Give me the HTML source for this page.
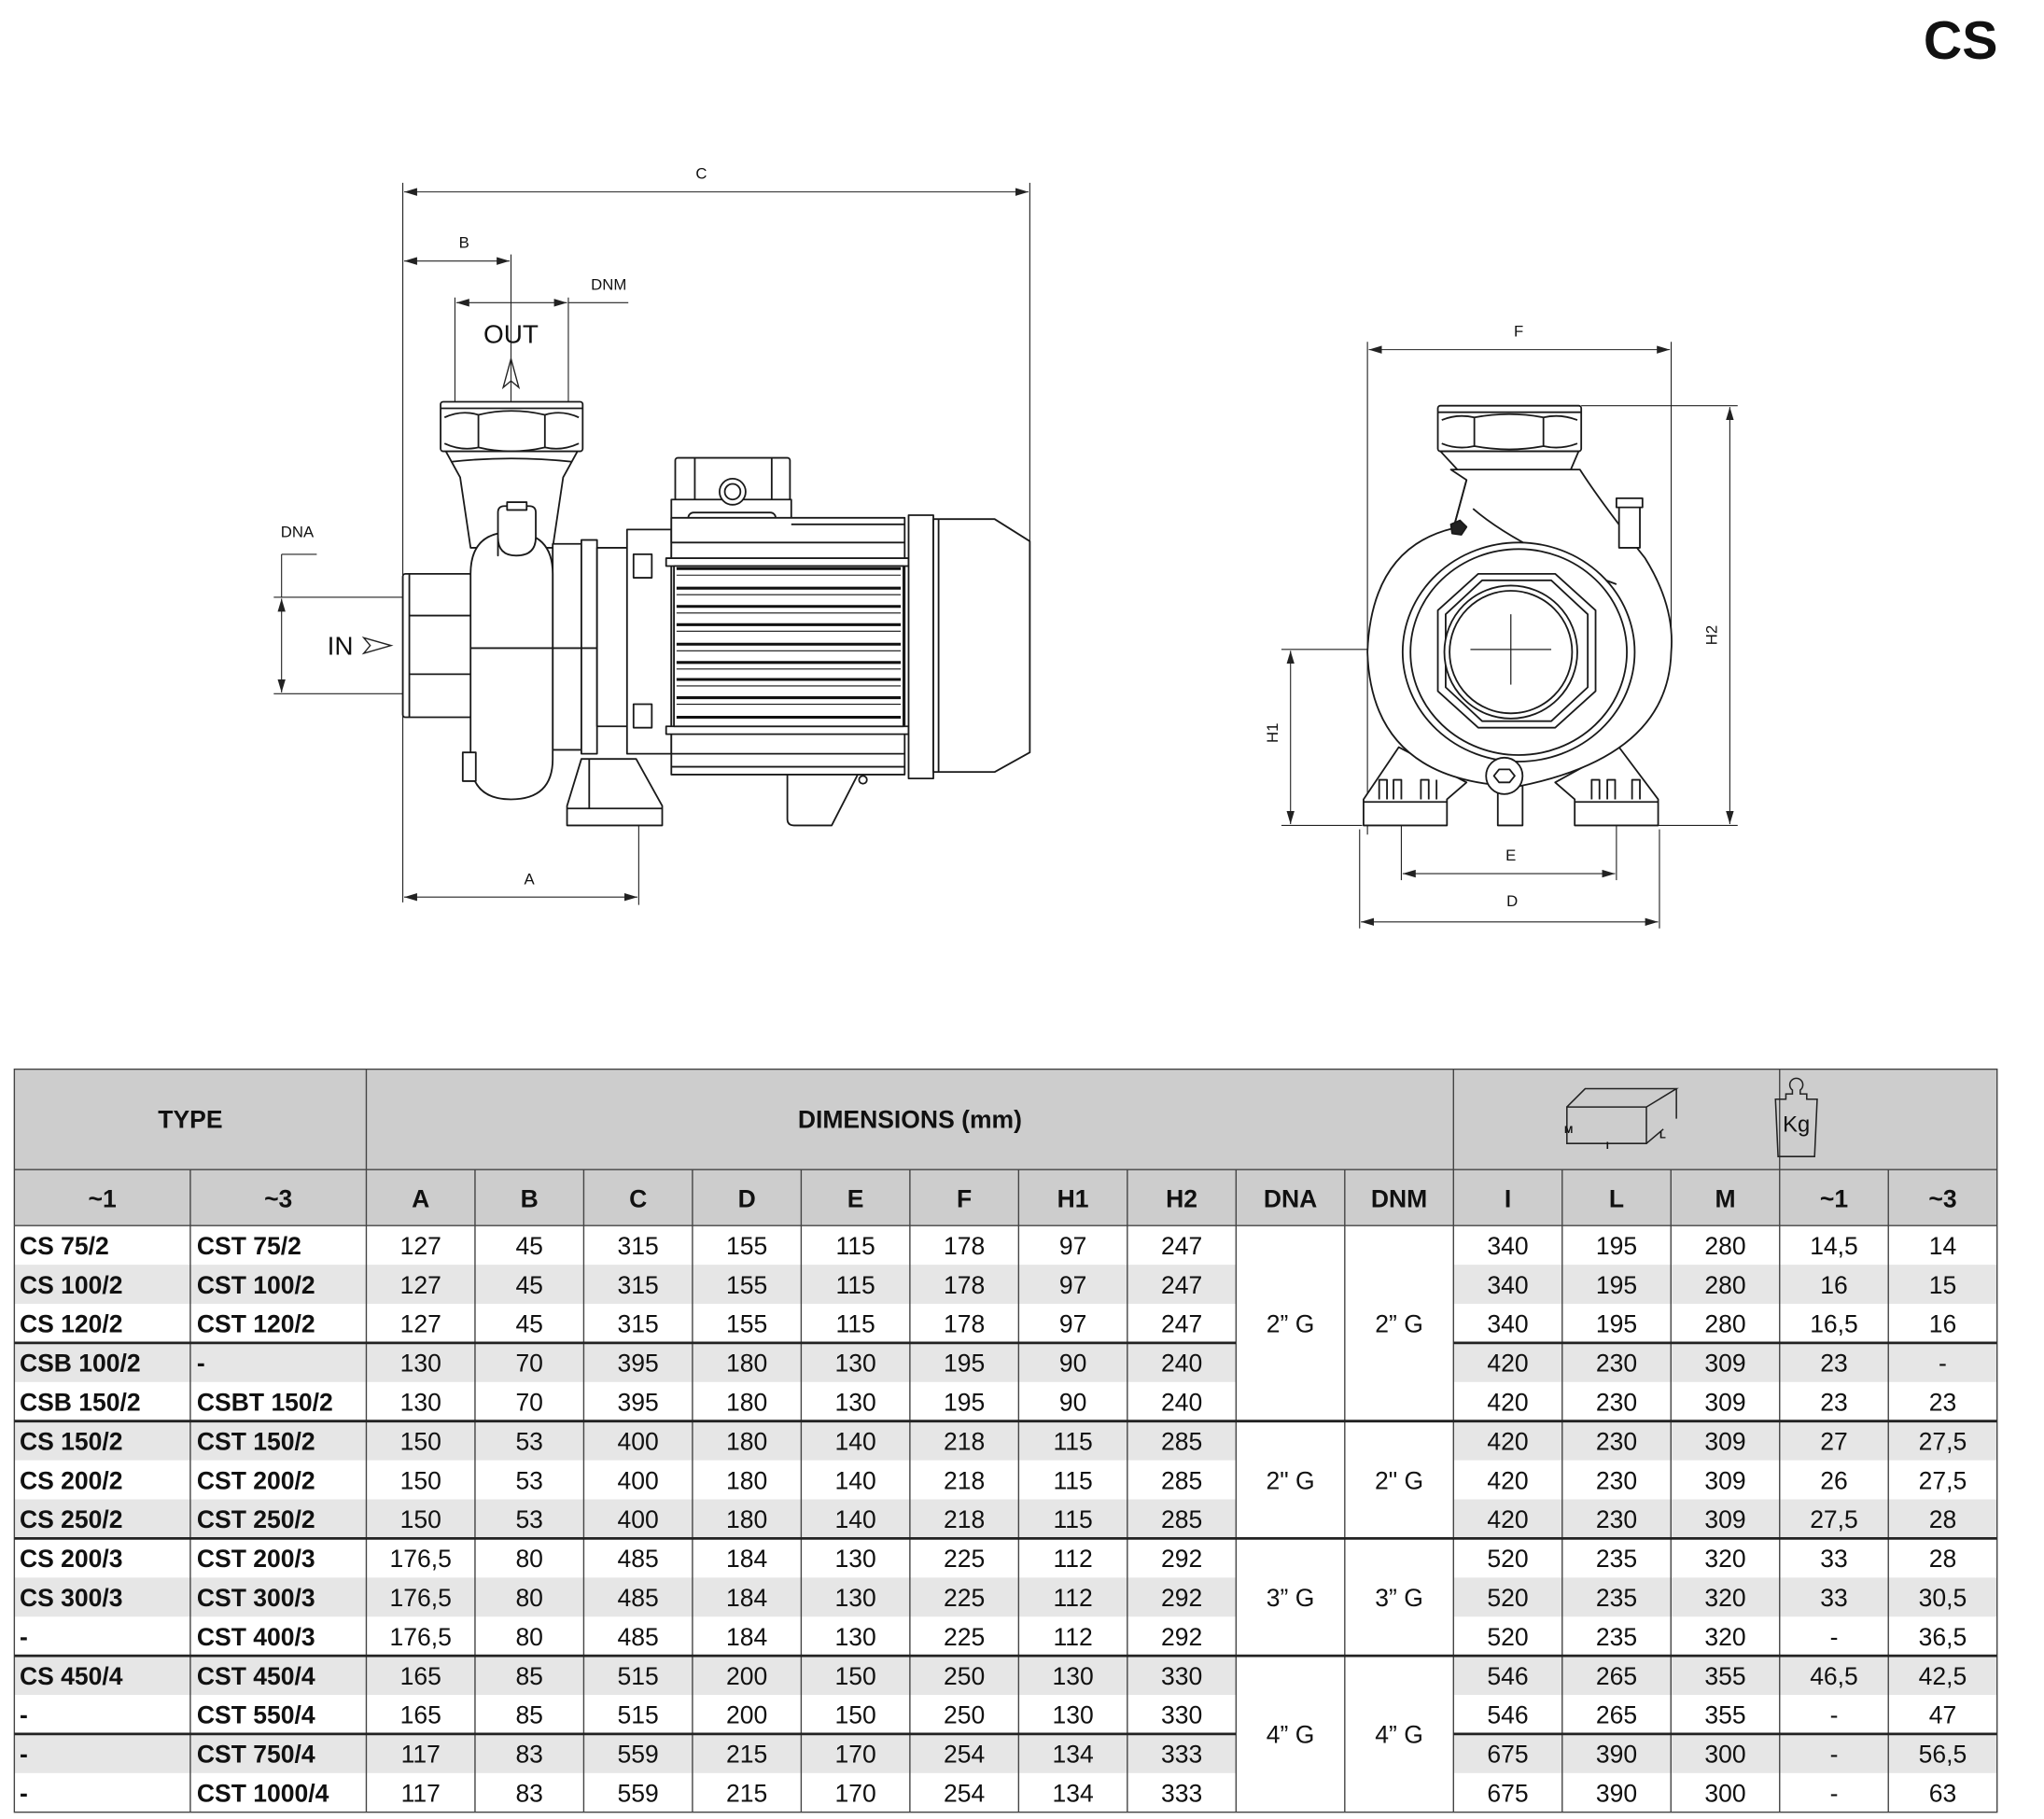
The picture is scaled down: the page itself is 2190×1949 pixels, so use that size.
<!DOCTYPE html>
<html><head><meta charset="utf-8"><style>
html,body{margin:0;padding:0;background:#fff;}
svg{display:block;}
text{font-family:"Liberation Sans",sans-serif;fill:#111;}
</style></head><body>
<svg width="2190" height="1949" viewBox="0 0 1568 1395" xmlns="http://www.w3.org/2000/svg">
<defs>
<marker id="ar" viewBox="0 0 10 6" refX="10" refY="3" markerWidth="10" markerHeight="6" orient="auto-start-reverse" markerUnits="userSpaceOnUse"><path d="M0,0 L10,3 L0,6 z" fill="#222"/></marker>
</defs>
<text x="1504" y="45" font-size="41" font-weight="bold" text-anchor="middle">CS</text>

<!-- ===== LEFT VIEW dims ===== -->
<g stroke="#222" stroke-width="0.8" fill="none">
<line x1="309" y1="140" x2="309" y2="692"/>
<line x1="790" y1="140" x2="790" y2="445"/>
<line x1="310" y1="147" x2="789" y2="147" marker-start="url(#ar)" marker-end="url(#ar)"/>
<line x1="392" y1="195" x2="392" y2="308"/>
<line x1="310" y1="200" x2="391" y2="200" marker-start="url(#ar)" marker-end="url(#ar)"/>
<line x1="349" y1="228" x2="349" y2="308"/>
<line x1="436" y1="228" x2="436" y2="308"/>
<line x1="350" y1="232" x2="435" y2="232" marker-start="url(#ar)" marker-end="url(#ar)"/>
<line x1="436" y1="232" x2="482" y2="232"/>
<line x1="216" y1="425" x2="243" y2="425"/>
<line x1="216" y1="425" x2="216" y2="458"/>
<line x1="210" y1="458" x2="309" y2="458"/>
<line x1="210" y1="532" x2="309" y2="532"/>
<line x1="216" y1="459" x2="216" y2="531" marker-start="url(#ar)" marker-end="url(#ar)"/>
<line x1="490" y1="612" x2="490" y2="694"/>
<line x1="310" y1="688" x2="489" y2="688" marker-start="url(#ar)" marker-end="url(#ar)"/>
</g>
<g font-size="12" text-anchor="middle">
<text x="538" y="137">C</text>
<text x="356" y="190">B</text>
<text x="467" y="222">DNM</text>
<text x="228" y="412">DNA</text>
<text x="406" y="678">A</text>
</g>
<text x="392" y="263" font-size="20" text-anchor="middle">OUT</text>
<path d="M392,275 L386,297 L392,292 L398,297 Z" fill="none" stroke="#222" stroke-width="1"/>
<text x="261" y="502" font-size="20" text-anchor="middle">IN</text>
<path d="M279,489 L300,495 L279,501 L284,495 Z" fill="none" stroke="#222" stroke-width="1"/>

<!-- ===== LEFT PUMP ===== -->
<g stroke="#1a1a1a" stroke-width="1.3" fill="#fff" stroke-linejoin="round">
<!-- neck -->
<path d="M342,346 L443,346 L432,366 L424,420 L361,420 L353,366 Z"/>
<path d="M346,354 Q392,349 439,354" fill="none"/>
<!-- nut -->
<rect x="338" y="308" width="109" height="38" rx="2"/>
<line x1="338" y1="313" x2="447" y2="313"/>
<path d="M341,320 Q354,314 367,318 Q392,312 418,318 Q431,314 444,320 M341,340 Q354,346 367,343 Q392,349 418,343 Q431,346 444,340 M367,318 L367,343 M418,318 L418,343" fill="none"/>
<!-- inlet -->
<rect x="309" y="440" width="53" height="110" rx="2"/>
<line x1="314" y1="440" x2="314" y2="550"/>
<line x1="314" y1="472" x2="362" y2="472"/>
<line x1="314" y1="517" x2="362" y2="517"/>
<!-- flange stack -->
<rect x="424" y="417" width="22" height="158"/>
<rect x="446" y="414" width="12" height="164"/>
<rect x="458" y="420" width="29" height="137"/>
<rect x="481" y="406" width="34" height="172"/>
<rect x="486" y="425" width="14" height="18"/>
<rect x="486" y="540" width="14" height="18"/>
<!-- foot -->
<path d="M446,582 L488,582 L508,618 L508,633 L435,633 L435,618 Z"/>
<line x1="435" y1="620" x2="508" y2="620"/>
<line x1="452" y1="582" x2="452" y2="620"/>
<!-- volute body -->
<path d="M361,440 Q361,408 392,408 Q424,408 424,440 L424,582 Q424,613 392,613 Q361,613 361,582 Z"/>
<line x1="361" y1="497" x2="458" y2="497"/>
<path d="M382,426 L382,393 Q382,388 387,388 L406,388 Q411,388 411,393 L411,412 Q411,426 396,426 Q382,426 382,412 Z"/>
<rect x="389" y="385" width="15" height="6"/>
<rect x="355" y="577" width="10" height="22"/>
<!-- terminal box -->
<rect x="518" y="351" width="88" height="33" rx="2"/>
<line x1="533" y1="351" x2="533" y2="384"/><line x1="592" y1="351" x2="592" y2="384"/>
<rect x="515" y="383" width="92" height="33"/>
<rect x="528" y="393" width="67" height="23" rx="4"/>
<circle cx="562" cy="377" r="10"/><circle cx="562" cy="377" r="6"/>
<circle cx="545" cy="407" r="9.5"/><circle cx="580" cy="407" r="9.5"/>
<!-- motor body -->
<rect x="515" y="397" width="179" height="197"/>
<line x1="515" y1="416" x2="694" y2="416"/>
<line x1="607" y1="402" x2="694" y2="402"/>
<line x1="515" y1="578" x2="694" y2="578"/>
<line x1="515" y1="588" x2="694" y2="588"/>
<rect x="511" y="428" width="186" height="6"/>
<rect x="511" y="557" width="186" height="6"/>
<rect x="517" y="434" width="176" height="123"/>
<!-- fan -->
<rect x="697" y="395" width="19" height="202"/>
<path d="M716,398 L763,398 L790,415 L790,577 L763,592 L716,592 Z"/>
<line x1="720" y1="398" x2="720" y2="592"/>
<!-- bracket -->
<path d="M604,594 L604,628 Q604,633 609,633 L638,633 L658,594" fill="none"/>
<circle cx="662" cy="598" r="3"/>
</g>
<g stroke="#111" stroke-width="2.2">
<line x1="519" y1="436" x2="691" y2="436"/><line x1="519" y1="451" x2="691" y2="451"/>
<line x1="519" y1="465" x2="691" y2="465"/><line x1="519" y1="479" x2="691" y2="479"/>
<line x1="519" y1="494" x2="691" y2="494"/><line x1="519" y1="508" x2="691" y2="508"/>
<line x1="519" y1="521" x2="691" y2="521"/><line x1="519" y1="535" x2="691" y2="535"/>
<line x1="519" y1="550" x2="691" y2="550"/>
</g>
<g stroke="#111" stroke-width="0.8">
<line x1="519" y1="441" x2="691" y2="441"/><line x1="519" y1="456" x2="691" y2="456"/>
<line x1="519" y1="470" x2="691" y2="470"/><line x1="519" y1="484" x2="691" y2="484"/>
<line x1="519" y1="499" x2="691" y2="499"/><line x1="519" y1="513" x2="691" y2="513"/>
<line x1="519" y1="526" x2="691" y2="526"/><line x1="519" y1="540" x2="691" y2="540"/>
</g>

<!-- ===== RIGHT VIEW dims ===== -->
<g stroke="#222" stroke-width="0.8" fill="none">
<line x1="1049" y1="262" x2="1049" y2="640"/>
<line x1="1282" y1="262" x2="1282" y2="495"/>
<line x1="1050" y1="268" x2="1281" y2="268" marker-start="url(#ar)" marker-end="url(#ar)"/>
<line x1="1213" y1="311" x2="1333" y2="311"/>
<line x1="1272" y1="633" x2="1333" y2="633"/>
<line x1="1327" y1="312" x2="1327" y2="632" marker-start="url(#ar)" marker-end="url(#ar)"/>
<line x1="983" y1="498" x2="1160" y2="498"/>
<line x1="983" y1="633" x2="1045" y2="633"/>
<line x1="990" y1="499" x2="990" y2="632" marker-start="url(#ar)" marker-end="url(#ar)"/>
<line x1="1075" y1="628" x2="1075" y2="675"/>
<line x1="1240" y1="628" x2="1240" y2="675"/>
<line x1="1076" y1="670" x2="1239" y2="670" marker-start="url(#ar)" marker-end="url(#ar)"/>
<line x1="1043" y1="636" x2="1043" y2="712"/>
<line x1="1273" y1="636" x2="1273" y2="712"/>
<line x1="1044" y1="707" x2="1272" y2="707" marker-start="url(#ar)" marker-end="url(#ar)"/>
</g>
<g font-size="12" text-anchor="middle">
<text x="1165" y="258">F</text>
<text x="1159" y="660">E</text>
<text x="1160" y="695">D</text>
<text transform="translate(1317,487) rotate(-90)">H2</text>
<text transform="translate(980,562) rotate(-90)">H1</text>
</g>

<!-- ===== RIGHT PUMP ===== -->
<g stroke="#1a1a1a" stroke-width="1.3" fill="#fff" stroke-linejoin="round">
<path d="M1073,573 L1046,613 L1046,633 L1110,633 L1110,613 L1125,600 Z"/>
<path d="M1242,573 L1272,613 L1272,633 L1208,633 L1208,613 L1193,600 Z"/>
<line x1="1046" y1="615" x2="1110" y2="615"/><line x1="1208" y1="615" x2="1272" y2="615"/>
<path d="M1058,613 L1058,598 L1064,598 L1064,613 M1069,613 L1069,598 L1075,598 L1075,613 M1090,613 L1090,598 L1096,598 L1096,613 M1102,613 L1102,598" fill="none"/>
<path d="M1221,613 L1221,598 L1227,598 L1227,613 M1233,613 L1233,598 L1239,598 L1239,613 M1252,613 L1252,598 L1258,598 L1258,613" fill="none"/>
<rect x="1149" y="600" width="19" height="33"/>
<path d="M1113,360 L1212,360 Q1228,385 1262,428 Q1285,465 1282,500 Q1280,580 1165,603 Q1052,600 1049,500 Q1052,420 1115,405 L1125,368 Z"/>
<path d="M1125,368 L1115,405" fill="none"/>
<path d="M1130,390 Q1165,420 1240,448" fill="none"/>
<rect x="1242" y="385" width="16" height="35"/>
<rect x="1240" y="382" width="20" height="7"/>
<rect x="1103" y="311" width="110" height="35" rx="2"/>
<line x1="1103" y1="316" x2="1213" y2="316"/>
<path d="M1106,322 Q1118,317 1131,320 Q1158,315 1184,320 Q1197,317 1210,322 M1106,340 Q1118,345 1131,342 Q1158,347 1184,342 Q1197,345 1210,340 M1131,320 L1131,342 M1184,320 L1184,342" fill="none"/>
<path d="M1105,346 L1211,346 L1205,360 L1118,360 Z"/>
<ellipse cx="1165" cy="500" rx="89" ry="84"/>
<ellipse cx="1165" cy="500" rx="83" ry="79"/>
<path d="M1134,440 L1193,440 L1224,468 L1224,530 L1193,558 L1134,558 L1103,530 L1103,468 Z"/>
<path d="M1137,445 L1190,445 L1218,471 L1218,527 L1190,553 L1137,553 L1109,527 L1109,471 Z"/>
<circle cx="1159" cy="500" r="51"/>
<circle cx="1159" cy="500" r="47"/>
<circle cx="1154" cy="595" r="14"/>
<path d="M1150,590 L1158,590 L1162,595 L1158,600 L1150,600 L1146,595 Z"/>
<path d="M1113,402 L1120,399 L1125,404 L1121,410 L1114,409 Z" fill="#222"/>
</g>
<g stroke="#222" stroke-width="0.9">
<line x1="1128" y1="498" x2="1190" y2="498"/>
<line x1="1159" y1="471" x2="1159" y2="525"/>
</g>

<!-- ===== TABLE ===== -->
<g stroke="none">
<rect x="11" y="820" width="1521" height="120" fill="#cdcdcd"/>
<rect x="11" y="970" width="937" height="30" fill="#e6e6e6"/><rect x="1115" y="970" width="417" height="30" fill="#e6e6e6"/>
<rect x="11" y="1030" width="937" height="30" fill="#e6e6e6"/><rect x="1115" y="1030" width="417" height="30" fill="#e6e6e6"/>
<rect x="11" y="1090" width="937" height="30" fill="#e6e6e6"/><rect x="1115" y="1090" width="417" height="30" fill="#e6e6e6"/>
<rect x="11" y="1150" width="937" height="30" fill="#e6e6e6"/><rect x="1115" y="1150" width="417" height="30" fill="#e6e6e6"/>
<rect x="11" y="1210" width="937" height="30" fill="#e6e6e6"/><rect x="1115" y="1210" width="417" height="30" fill="#e6e6e6"/>
<rect x="11" y="1270" width="937" height="30" fill="#e6e6e6"/><rect x="1115" y="1270" width="417" height="30" fill="#e6e6e6"/>
<rect x="11" y="1330" width="937" height="30" fill="#e6e6e6"/><rect x="1115" y="1330" width="417" height="30" fill="#e6e6e6"/>
</g>
<g stroke="#444" stroke-width="1" fill="none">
<rect x="11" y="820" width="1521" height="570"/>
<line x1="11" y1="897" x2="1532" y2="897"/>
<line x1="11" y1="940" x2="1532" y2="940"/>
<line x1="281" y1="820" x2="281" y2="1390"/>
<line x1="1115" y1="820" x2="1115" y2="1390"/>
<line x1="1365.2" y1="820" x2="1365.2" y2="1390"/>
<line x1="146" y1="897" x2="146" y2="1390"/>
<line x1="364.4" y1="897" x2="364.4" y2="1390"/><line x1="447.8" y1="897" x2="447.8" y2="1390"/>
<line x1="531.2" y1="897" x2="531.2" y2="1390"/><line x1="614.6" y1="897" x2="614.6" y2="1390"/>
<line x1="698" y1="897" x2="698" y2="1390"/><line x1="781.4" y1="897" x2="781.4" y2="1390"/>
<line x1="864.8" y1="897" x2="864.8" y2="1390"/><line x1="948.2" y1="897" x2="948.2" y2="1390"/>
<line x1="1031.6" y1="897" x2="1031.6" y2="1390"/>
<line x1="1198.4" y1="897" x2="1198.4" y2="1390"/><line x1="1281.8" y1="897" x2="1281.8" y2="1390"/>
<line x1="1448.6" y1="897" x2="1448.6" y2="1390"/>
</g>
<g stroke="#222" stroke-width="2" fill="none">
<line x1="11" y1="1030" x2="948" y2="1030"/><line x1="1115" y1="1030" x2="1532" y2="1030"/>
<line x1="11" y1="1090" x2="1532" y2="1090"/>
<line x1="11" y1="1180" x2="1532" y2="1180"/>
<line x1="11" y1="1270" x2="1532" y2="1270"/>
<line x1="11" y1="1330" x2="948" y2="1330"/><line x1="1115" y1="1330" x2="1532" y2="1330"/>
</g>
<!-- icons -->
<g stroke="#222" stroke-width="1.1" fill="none">
<path d="M1202,864 L1202,877 L1263,877 L1263,849 L1202,849 Z M1202,849 L1216,835 L1286,835 L1263,849 M1286,835 L1286,858 M1263,877 L1276,866"/>
<path d="M1375,836 A5,5 0 1 1 1381,836 L1381,839 L1386,839 L1386,843 L1394,843 L1392,887 L1364,887 L1362,843 L1370,843 L1370,839 L1375,839 Z"/>
</g>
<text x="1200" y="869" font-size="8" font-weight="bold">M</text>
<text x="1273" y="873" font-size="8" font-weight="bold">L</text>
<text x="1232" y="881" font-size="8" font-weight="bold">I</text>
<text x="1378" y="868" font-size="17" text-anchor="middle">Kg</text>

<g font-size="19" font-weight="bold" text-anchor="middle">
<text x="146" y="865">TYPE</text>
<text x="698" y="865">DIMENSIONS (mm)</text>
<text x="78.5" y="926">~1</text><text x="213.5" y="926">~3</text>
<text x="322.7" y="926">A</text><text x="406.1" y="926">B</text><text x="489.5" y="926">C</text>
<text x="572.9" y="926">D</text><text x="656.3" y="926">E</text><text x="739.7" y="926">F</text>
<text x="823.1" y="926">H1</text><text x="906.5" y="926">H2</text><text x="989.9" y="926">DNA</text>
<text x="1073.3" y="926">DNM</text><text x="1156.7" y="926">I</text><text x="1240.1" y="926">L</text>
<text x="1323.5" y="926">M</text><text x="1406.9" y="926">~1</text><text x="1490.3" y="926">~3</text>
</g>

<g font-size="19" font-weight="bold">
<text x="15" y="962">CS 75/2</text><text x="151" y="962">CST 75/2</text>
<text x="15" y="992">CS 100/2</text><text x="151" y="992">CST 100/2</text>
<text x="15" y="1022">CS 120/2</text><text x="151" y="1022">CST 120/2</text>
<text x="15" y="1052">CSB 100/2</text><text x="151" y="1052">-</text>
<text x="15" y="1082">CSB 150/2</text><text x="151" y="1082">CSBT 150/2</text>
<text x="15" y="1112">CS 150/2</text><text x="151" y="1112">CST 150/2</text>
<text x="15" y="1142">CS 200/2</text><text x="151" y="1142">CST 200/2</text>
<text x="15" y="1172">CS 250/2</text><text x="151" y="1172">CST 250/2</text>
<text x="15" y="1202">CS 200/3</text><text x="151" y="1202">CST 200/3</text>
<text x="15" y="1232">CS 300/3</text><text x="151" y="1232">CST 300/3</text>
<text x="15" y="1262">-</text><text x="151" y="1262">CST 400/3</text>
<text x="15" y="1292">CS 450/4</text><text x="151" y="1292">CST 450/4</text>
<text x="15" y="1322">-</text><text x="151" y="1322">CST 550/4</text>
<text x="15" y="1352">-</text><text x="151" y="1352">CST 750/4</text>
<text x="15" y="1382">-</text><text x="151" y="1382">CST 1000/4</text>
</g>

<g font-size="19" text-anchor="middle">
<text x="989.9" y="1022">2” G</text><text x="1073.3" y="1022">2” G</text>
<text x="989.9" y="1142">2" G</text><text x="1073.3" y="1142">2" G</text>
<text x="989.9" y="1232">3” G</text><text x="1073.3" y="1232">3” G</text>
<text x="989.9" y="1337">4” G</text><text x="1073.3" y="1337">4” G</text>

<g transform="translate(0,962)"><text x="322.7">127</text><text x="406.1">45</text><text x="489.5">315</text><text x="572.9">155</text><text x="656.3">115</text><text x="739.7">178</text><text x="823.1">97</text><text x="906.5">247</text><text x="1156.7">340</text><text x="1240.1">195</text><text x="1323.5">280</text><text x="1406.9">14,5</text><text x="1490.3">14</text></g>
<g transform="translate(0,992)"><text x="322.7">127</text><text x="406.1">45</text><text x="489.5">315</text><text x="572.9">155</text><text x="656.3">115</text><text x="739.7">178</text><text x="823.1">97</text><text x="906.5">247</text><text x="1156.7">340</text><text x="1240.1">195</text><text x="1323.5">280</text><text x="1406.9">16</text><text x="1490.3">15</text></g>
<g transform="translate(0,1022)"><text x="322.7">127</text><text x="406.1">45</text><text x="489.5">315</text><text x="572.9">155</text><text x="656.3">115</text><text x="739.7">178</text><text x="823.1">97</text><text x="906.5">247</text><text x="1156.7">340</text><text x="1240.1">195</text><text x="1323.5">280</text><text x="1406.9">16,5</text><text x="1490.3">16</text></g>
<g transform="translate(0,1052)"><text x="322.7">130</text><text x="406.1">70</text><text x="489.5">395</text><text x="572.9">180</text><text x="656.3">130</text><text x="739.7">195</text><text x="823.1">90</text><text x="906.5">240</text><text x="1156.7">420</text><text x="1240.1">230</text><text x="1323.5">309</text><text x="1406.9">23</text><text x="1490.3">-</text></g>
<g transform="translate(0,1082)"><text x="322.7">130</text><text x="406.1">70</text><text x="489.5">395</text><text x="572.9">180</text><text x="656.3">130</text><text x="739.7">195</text><text x="823.1">90</text><text x="906.5">240</text><text x="1156.7">420</text><text x="1240.1">230</text><text x="1323.5">309</text><text x="1406.9">23</text><text x="1490.3">23</text></g>
<g transform="translate(0,1112)"><text x="322.7">150</text><text x="406.1">53</text><text x="489.5">400</text><text x="572.9">180</text><text x="656.3">140</text><text x="739.7">218</text><text x="823.1">115</text><text x="906.5">285</text><text x="1156.7">420</text><text x="1240.1">230</text><text x="1323.5">309</text><text x="1406.9">27</text><text x="1490.3">27,5</text></g>
<g transform="translate(0,1142)"><text x="322.7">150</text><text x="406.1">53</text><text x="489.5">400</text><text x="572.9">180</text><text x="656.3">140</text><text x="739.7">218</text><text x="823.1">115</text><text x="906.5">285</text><text x="1156.7">420</text><text x="1240.1">230</text><text x="1323.5">309</text><text x="1406.9">26</text><text x="1490.3">27,5</text></g>
<g transform="translate(0,1172)"><text x="322.7">150</text><text x="406.1">53</text><text x="489.5">400</text><text x="572.9">180</text><text x="656.3">140</text><text x="739.7">218</text><text x="823.1">115</text><text x="906.5">285</text><text x="1156.7">420</text><text x="1240.1">230</text><text x="1323.5">309</text><text x="1406.9">27,5</text><text x="1490.3">28</text></g>
<g transform="translate(0,1202)"><text x="322.7">176,5</text><text x="406.1">80</text><text x="489.5">485</text><text x="572.9">184</text><text x="656.3">130</text><text x="739.7">225</text><text x="823.1">112</text><text x="906.5">292</text><text x="1156.7">520</text><text x="1240.1">235</text><text x="1323.5">320</text><text x="1406.9">33</text><text x="1490.3">28</text></g>
<g transform="translate(0,1232)"><text x="322.7">176,5</text><text x="406.1">80</text><text x="489.5">485</text><text x="572.9">184</text><text x="656.3">130</text><text x="739.7">225</text><text x="823.1">112</text><text x="906.5">292</text><text x="1156.7">520</text><text x="1240.1">235</text><text x="1323.5">320</text><text x="1406.9">33</text><text x="1490.3">30,5</text></g>
<g transform="translate(0,1262)"><text x="322.7">176,5</text><text x="406.1">80</text><text x="489.5">485</text><text x="572.9">184</text><text x="656.3">130</text><text x="739.7">225</text><text x="823.1">112</text><text x="906.5">292</text><text x="1156.7">520</text><text x="1240.1">235</text><text x="1323.5">320</text><text x="1406.9">-</text><text x="1490.3">36,5</text></g>
<g transform="translate(0,1292)"><text x="322.7">165</text><text x="406.1">85</text><text x="489.5">515</text><text x="572.9">200</text><text x="656.3">150</text><text x="739.7">250</text><text x="823.1">130</text><text x="906.5">330</text><text x="1156.7">546</text><text x="1240.1">265</text><text x="1323.5">355</text><text x="1406.9">46,5</text><text x="1490.3">42,5</text></g>
<g transform="translate(0,1322)"><text x="322.7">165</text><text x="406.1">85</text><text x="489.5">515</text><text x="572.9">200</text><text x="656.3">150</text><text x="739.7">250</text><text x="823.1">130</text><text x="906.5">330</text><text x="1156.7">546</text><text x="1240.1">265</text><text x="1323.5">355</text><text x="1406.9">-</text><text x="1490.3">47</text></g>
<g transform="translate(0,1352)"><text x="322.7">117</text><text x="406.1">83</text><text x="489.5">559</text><text x="572.9">215</text><text x="656.3">170</text><text x="739.7">254</text><text x="823.1">134</text><text x="906.5">333</text><text x="1156.7">675</text><text x="1240.1">390</text><text x="1323.5">300</text><text x="1406.9">-</text><text x="1490.3">56,5</text></g>
<g transform="translate(0,1382)"><text x="322.7">117</text><text x="406.1">83</text><text x="489.5">559</text><text x="572.9">215</text><text x="656.3">170</text><text x="739.7">254</text><text x="823.1">134</text><text x="906.5">333</text><text x="1156.7">675</text><text x="1240.1">390</text><text x="1323.5">300</text><text x="1406.9">-</text><text x="1490.3">63</text></g>
</g>
</svg>
</body></html>
